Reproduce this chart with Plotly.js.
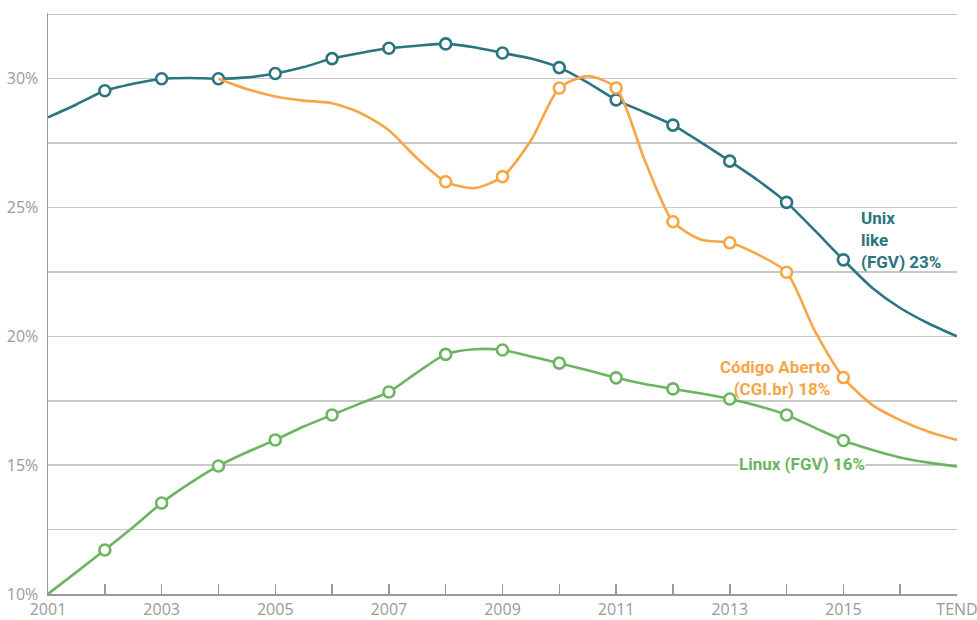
<!DOCTYPE html>
<html>
<head>
<meta charset="utf-8">
<script src="https://cdn.plot.ly/plotly-3.0.1.min.js"></script>
<style>html,body{margin:0;padding:0;background:#fff;}#chart{width:977px;height:620px;}</style>
</head>
<body>
<div id="chart"></div>
<script>
// Years (half-year steps), 2017 = TEND
const unixYears = [2001,2001.5,2002,2002.5,2003,2003.5,2004,2004.5,2005,2005.5,2006,2006.5,2007,2007.5,2008,2008.5,2009,2009.5,2010,2010.5,2011,2011.5,2012,2012.5,2013,2013.5,2014,2014.5,2015,2015.5,2016,2016.5,2017];
const unixValues = [28.5,29.0,29.53,29.8,30.0,30.03,30.0,30.05,30.2,30.45,30.78,31.0,31.18,31.28,31.35,31.22,31.0,30.78,30.43,29.85,29.18,28.7,28.2,27.52,26.8,26.05,25.2,24.1,22.97,21.9,21.1,20.5,20.0];

const openYears = [2004,2004.5,2005,2005.5,2006,2006.5,2007,2007.5,2008,2008.5,2009,2009.5,2010,2010.5,2011,2011.5,2012,2012.5,2013,2013.5,2014,2014.5,2015,2015.5,2016,2016.5,2017];
const openValues = [30.0,29.6,29.31,29.15,29.05,28.67,28.0,26.9,26.0,25.75,26.2,27.6,29.64,30.1,29.64,26.85,24.45,23.75,23.63,23.17,22.49,20.2,18.4,17.35,16.75,16.3,15.98];

const linuxYears = [2001,2001.5,2002,2002.5,2003,2003.5,2004,2004.5,2005,2005.5,2006,2006.5,2007,2007.5,2008,2008.5,2009,2009.5,2010,2010.5,2011,2011.5,2012,2012.5,2013,2013.5,2014,2014.5,2015,2015.5,2016,2016.5,2017];
const linuxValues = [10.0,10.85,11.71,12.6,13.53,14.3,14.97,15.5,15.98,16.5,16.95,17.4,17.84,18.6,19.3,19.5,19.47,19.22,18.96,18.68,18.39,18.15,17.96,17.78,17.57,17.3,16.95,16.45,15.96,15.6,15.3,15.1,14.95];

const unixMarkerYears = [2002,2003,2004,2005,2006,2007,2008,2009,2010,2011,2012,2013,2014,2015];
const openMarkerYears = [2008,2009,2010,2011,2012,2013,2014,2015];
const linuxMarkerYears = [2002,2003,2004,2005,2006,2007,2008,2009,2010,2011,2012,2013,2014,2015];

const xTickVals = [2001,2002,2003,2004,2005,2006,2007,2008,2009,2010,2011,2012,2013,2014,2015,2016,2017];
const xTickText = ['2001','','2003','','2005','','2007','','2009','','2011','','2013','','2015','','TEND'];
const yTickVals = [10,12.5,15,17.5,20,22.5,25,27.5,30,32.5];
const yTickText = ['10%','','15%','','20%','','25%','','30%',''];

const TEAL = '#2a7580', ORANGE = '#f7a545', GREEN = '#6cb560';

function pick(xs, ys, keep){
  const px=[], py=[];
  xs.forEach((x,i)=>{ if(keep.includes(x)){ px.push(x); py.push(ys[i]); } });
  return {x:px, y:py};
}
function lineTrace(xs, ys, color){
  return {x:xs, y:ys, type:'scatter', mode:'lines', line:{color:color, width:2.6, shape:'spline', smoothing:0.7}, hoverinfo:'skip', showlegend:false};
}
function markerTrace(xs, ys, keep, color){
  const p = pick(xs, ys, keep);
  return {x:p.x, y:p.y, type:'scatter', mode:'markers', marker:{size:11, color:'#ffffff', line:{color:color, width:2.6}}, hoverinfo:'skip', showlegend:false};
}

const data = [
  lineTrace(linuxYears, linuxValues, GREEN),
  markerTrace(linuxYears, linuxValues, linuxMarkerYears, GREEN),
  lineTrace(unixYears, unixValues, TEAL),
  markerTrace(unixYears, unixValues, unixMarkerYears, TEAL),
  lineTrace(openYears, openValues, ORANGE),
  markerTrace(openYears, openValues, openMarkerYears, ORANGE)
];

const annFont = {family:'Roboto, "Liberation Sans", sans-serif', size:17, weight:'bold'};
const tickFont = {family:'"Open Sans", "Liberation Sans", sans-serif', size:16, color:'#9a9a9a'};
const layout = {
  width:977, height:620,
  margin:{l:48, r:20, t:13, b:26, pad:0},
  paper_bgcolor:'#fff', plot_bgcolor:'#fff',
  font:{family:'"Open Sans", sans-serif', color:'#999'},
  xaxis:{range:[2001,2017], tickvals:xTickVals, ticktext:xTickText, ticks:'inside', ticklen:10, tickwidth:1.5, tickcolor:'#999',
         showgrid:false, zeroline:false, showline:true, linecolor:'#999', linewidth:1.5, tickfont:tickFont, ticklabeloverflow:'allow', automargin:false, fixedrange:true},
  yaxis:{range:[10,32.55], tickvals:yTickVals, ticktext:yTickText, ticks:'', showgrid:true, gridcolor:'#c8c8c8', gridwidth:1.5,
         zeroline:false, showline:true, linecolor:'#999', linewidth:1.5, tickfont:tickFont, ticklabelstandoff:5, ticklabeloverflow:'allow', automargin:false, fixedrange:true},
  annotations:[
    {x:2015.27, y:23.75, xref:'x', yref:'y', text:'Unix<br>like<br>(FGV) 23%', showarrow:false, xanchor:'left', yanchor:'middle', align:'left', font:Object.assign({color:TEAL}, annFont)},
    {x:2014.82, y:18.4, xref:'x', yref:'y', text:'Código Aberto<br>(CGI.br) 18%', showarrow:false, xanchor:'right', yanchor:'middle', align:'right', font:Object.assign({color:ORANGE}, annFont)},
    {x:2014.27, y:15.05, xref:'x', yref:'y', text:'Linux (FGV) 16%', showarrow:false, xanchor:'center', yanchor:'middle', bgcolor:'#ffffff', borderpad:0, font:Object.assign({color:GREEN}, annFont)}
  ]
};

Plotly.newPlot('chart', data, layout, {displayModeBar:false, staticPlot:true});
</script>
</body>
</html>
